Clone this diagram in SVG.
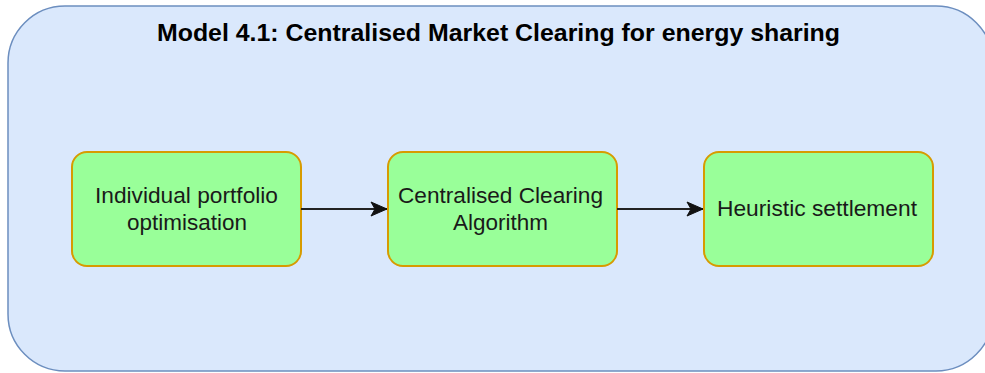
<svg xmlns="http://www.w3.org/2000/svg" width="985" height="373" viewBox="0 0 985 373">
  <defs>
    <marker id="arrow" viewBox="0 0 18 16" refX="17" refY="8" markerWidth="18" markerHeight="16" markerUnits="userSpaceOnUse" orient="auto">
      <path d="M1,1 L17,8 L1,15 L5,8 Z" fill="#111" stroke="#111" stroke-width="1"/>
    </marker>
  </defs>
  <style>
    .container { fill: #dae8fc; stroke: #6c8ebf; stroke-width: 1.5; }
    .step { fill: #99ff99; stroke: #d79b00; stroke-width: 2; }
    .label { font-family: "Liberation Sans", Arial, sans-serif; font-size: 21.5px; fill: #1a1a1a; text-anchor: middle; }
    .title { font-family: "Liberation Sans", Arial, sans-serif; font-size: 24.5px; font-weight: bold; fill: #000; text-anchor: middle; }
    .edge { fill: none; stroke: #222; stroke-width: 2; }
  </style>

  <g id="model-container">
    <rect class="container" x="8" y="6" width="985" height="365" rx="57" ry="57"/>
    <text class="title" x="498.5" y="41" textLength="683" lengthAdjust="spacingAndGlyphs">Model 4.1: Centralised Market Clearing for energy sharing</text>
  </g>

  <g id="node-portfolio">
    <rect class="step" x="72" y="152" width="229" height="114" rx="15" ry="15"/>
    <text class="label" x="186.5" y="203" textLength="183" lengthAdjust="spacingAndGlyphs">Individual portfolio</text>
    <text class="label" x="187" y="230" textLength="120" lengthAdjust="spacingAndGlyphs">optimisation</text>
  </g>

  <g id="node-clearing">
    <rect class="step" x="388" y="152" width="229" height="114" rx="15" ry="15"/>
    <text class="label" x="500.5" y="203" textLength="205" lengthAdjust="spacingAndGlyphs">Centralised Clearing</text>
    <text class="label" x="500.5" y="230" textLength="95" lengthAdjust="spacingAndGlyphs">Algorithm</text>
  </g>

  <g id="node-settlement">
    <rect class="step" x="704" y="152" width="229" height="114" rx="15" ry="15"/>
    <text class="label" x="817" y="216" textLength="200" lengthAdjust="spacingAndGlyphs">Heuristic settlement</text>
  </g>

  <g id="connectors">
    <line class="edge" x1="301" y1="209" x2="383" y2="209"/>
    <line class="edge" x1="301" y1="209" x2="387" y2="209" stroke="none" marker-end="url(#arrow)"/>
    <line class="edge" x1="617" y1="209" x2="699" y2="209"/>
    <line class="edge" x1="617" y1="209" x2="703" y2="209" stroke="none" marker-end="url(#arrow)"/>
  </g>
</svg>
